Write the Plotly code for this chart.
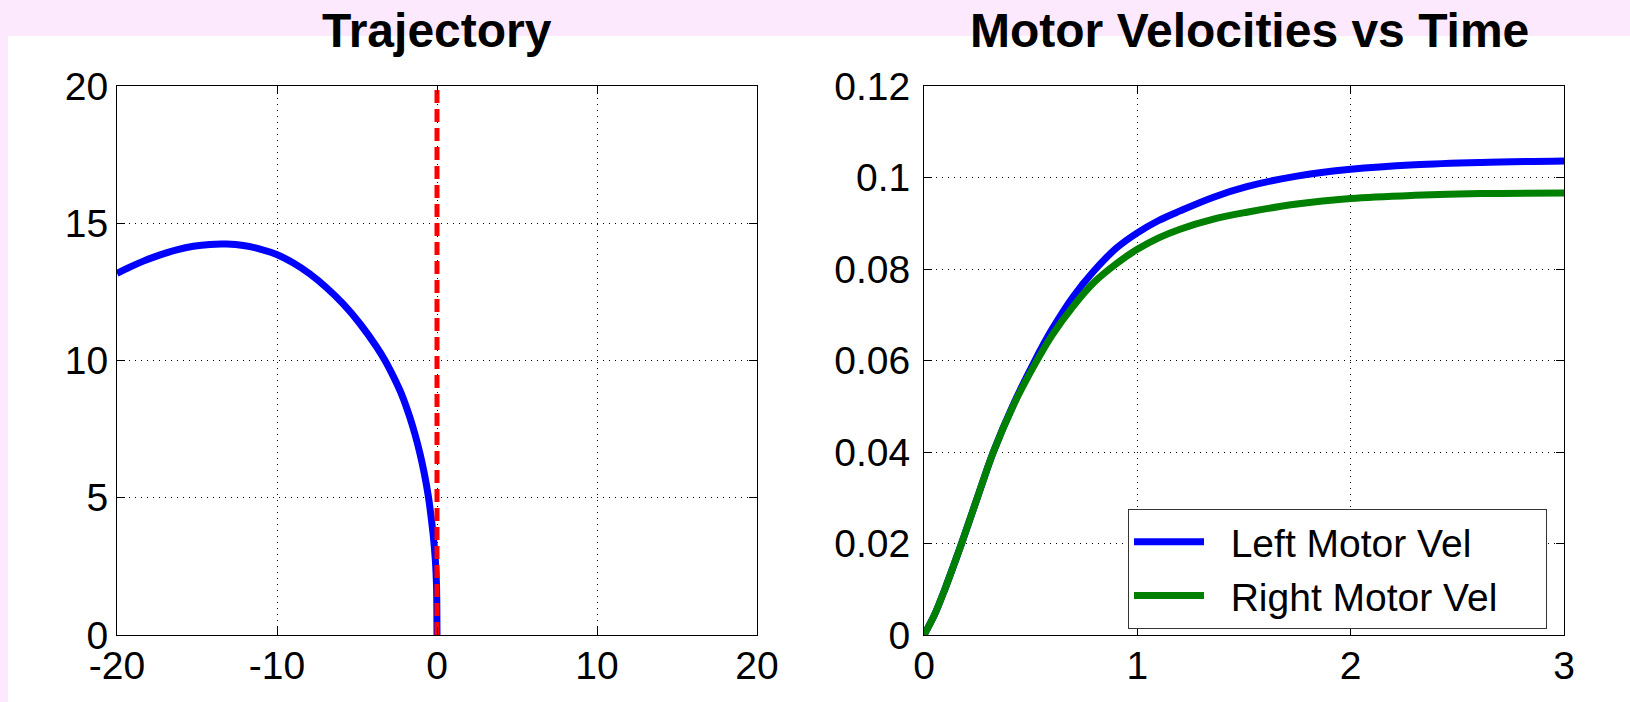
import plotly.graph_objects as go

# ---- data ----
traj_x = [0, -0.01, -0.03, -0.1, -0.23, -0.38, -0.54, -0.8, -1.06, -1.37, -1.69, -2.2, -2.73,
          -3.25, -3.77, -4.8, -5.85, -6.9, -7.94, -9.0, -10.02, -11.06, -12.1, -13.15, -14.19,
          -15.23, -16.27, -17.3, -18.35, -19.2, -20.0]
traj_y = [0, 1.0, 1.8, 2.7, 3.6, 4.35, 5.05, 5.9, 6.6, 7.3, 7.92, 8.75, 9.42,
          10.0, 10.49, 11.33, 12.05, 12.65, 13.15, 13.56, 13.86, 14.06, 14.19, 14.24, 14.23,
          14.16, 14.03, 13.85, 13.62, 13.40, 13.17]
ref_x = [0, 0]
ref_y = [0, 20]

time = [0, 0.05, 0.1, 0.176, 0.25, 0.325, 0.42, 0.52, 0.6, 0.7, 0.795, 0.9, 1.0, 1.1, 1.2,
        1.357, 1.513, 1.748, 2.0, 2.3, 2.61, 3.0]
left_vel = [0, 0.0045, 0.0103, 0.020, 0.030, 0.040, 0.0505, 0.060, 0.0668, 0.0740, 0.0795,
            0.0845, 0.0879, 0.0906, 0.0927, 0.0957, 0.0980, 0.1003, 0.1018, 0.1028, 0.1033, 0.1036]
right_vel = [0, 0.0045, 0.0103, 0.020, 0.030, 0.040, 0.0503, 0.0592, 0.0655, 0.0719, 0.0770,
             0.0811, 0.0843, 0.0868, 0.0887, 0.0909, 0.0924, 0.0942, 0.0954, 0.0961, 0.0965, 0.0966]

traj_xticks = [-20, -10, 0, 10, 20]
traj_xticklabels = ["-20", "-10", "0", "10", "20"]
traj_yticks = [0, 5, 10, 15, 20]
vel_xticks = [0, 1, 2, 3]
vel_yticks = [0, 0.02, 0.04, 0.06, 0.08, 0.1, 0.12]
vel_yticklabels = ["0", "0.02", "0.04", "0.06", "0.08", "0.1", "0.12"]

W, H = 1630, 702
FONT = "Liberation Sans, Arial, Helvetica, sans-serif"
NB = "\u00a0"

fig = go.Figure()
fig.add_trace(go.Scatter(x=traj_x, y=traj_y, mode="lines", line=dict(color="#0000FF", width=7, shape="spline"),
                         showlegend=False, xaxis="x", yaxis="y"))
fig.add_trace(go.Scatter(x=ref_x, y=ref_y, mode="lines", line=dict(color="#FF0000", width=5, dash="13px,6px"),
                         showlegend=False, xaxis="x", yaxis="y"))
fig.add_trace(go.Scatter(x=time, y=left_vel, mode="lines", name=NB * 2 + "Left Motor Vel" + NB * 4,
                         line=dict(color="#0000FF", width=7, shape="spline"), xaxis="x2", yaxis="y2"))
fig.add_trace(go.Scatter(x=time, y=right_vel, mode="lines", name=NB * 2 + "Right Motor Vel" + NB * 4,
                         line=dict(color="#008000", width=7, shape="spline"), xaxis="x2", yaxis="y2"))

ax_common = dict(showline=True, linecolor="black", linewidth=1, mirror="ticks", ticks="inside",
                 ticklen=8, tickcolor="black", showgrid=True, gridcolor="black", gridwidth=1,
                 griddash="1px,5px", zeroline=False, automargin=False,
                 tickfont=dict(family=FONT, size=39, color="black"))

y_bot = (H - 635) / H
y_top = (H - 86) / H

fig.update_layout(
    width=W, height=H,
    margin=dict(l=0, r=0, t=0, b=0, pad=0, autoexpand=False),
    paper_bgcolor="white", plot_bgcolor="white",
    xaxis=dict(domain=[117 / W, 757 / W], range=[-20, 20], tickvals=traj_xticks, ticktext=traj_xticklabels,
               anchor="y", ticklabelstandoff=-4, **ax_common),
    yaxis=dict(domain=[y_bot, y_top], range=[0, 20], tickvals=traj_yticks, anchor="x", **ax_common),
    xaxis2=dict(domain=[924 / W, 1564 / W], range=[0, 3], tickvals=vel_xticks, anchor="y2",
                ticklabelstandoff=-4, **ax_common),
    yaxis2=dict(domain=[y_bot, y_top], range=[0, 0.12], tickvals=vel_yticks, ticktext=vel_yticklabels,
                anchor="x2", ticklabelstandoff=5, **ax_common),
    legend=dict(x=1128 / W, y=(H - 509) / H, xanchor="left", yanchor="top",
                bgcolor="white", bordercolor="#333333", borderwidth=1,
                font=dict(family=FONT, size=39, color="black"), itemwidth=70,
                tracegroupgap=0),
    shapes=[
        dict(type="rect", xref="paper", yref="paper", x0=0, x1=1, y0=(H - 36) / H, y1=1,
             fillcolor="#FDE9FD", line=dict(width=0), layer="below"),
        dict(type="rect", xref="paper", yref="paper", x0=0, x1=8 / W, y0=0, y1=1,
             fillcolor="#FDE9FD", line=dict(width=0), layer="below"),
    ],
    annotations=[
        dict(text="<b>Trajectory</b>", xref="paper", yref="paper", x=(117 + 757) / 2 / W, y=(H - 31) / H,
             xanchor="center", yanchor="middle", showarrow=False,
             font=dict(family=FONT, size=48, color="black")),
        dict(text="<b>Motor Velocities vs Time</b>", xref="paper", yref="paper", x=1249 / W, y=(H - 31) / H,
             xanchor="center", yanchor="middle", showarrow=False,
             font=dict(family=FONT, size=48, color="black")),
    ],
)

fig.write_html("out.html", config={"displayModeBar": False},
               post_script="document.body.style.margin='0';document.body.style.overflow='hidden';")
